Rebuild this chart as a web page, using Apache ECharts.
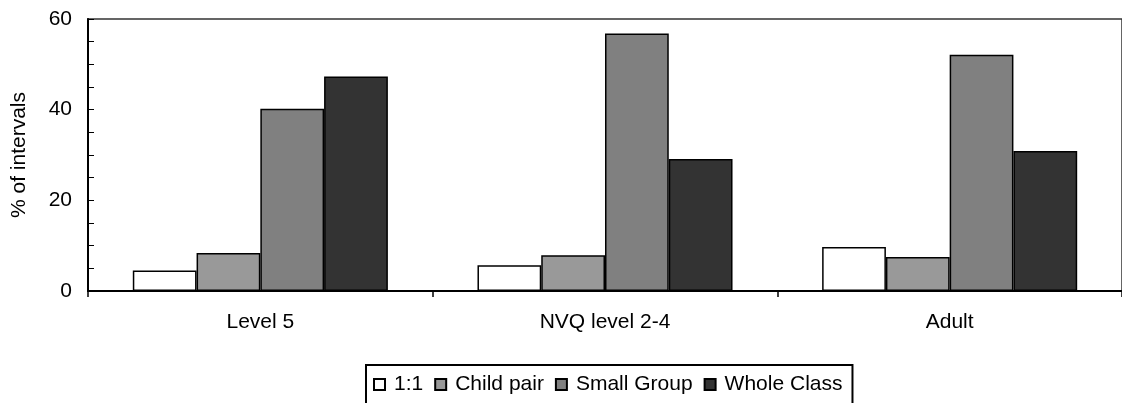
<!DOCTYPE html>
<html><head><meta charset="utf-8">
<script src="https://cdn.jsdelivr.net/npm/echarts@6/dist/echarts.min.js"></script>
<style>html,body{margin:0;padding:0;background:#fff}#c{width:1122px;height:403px}</style>
</head><body><div id="c"></div>
<script>
const categories = ['Level 5', 'NVQ level 2-4', 'Adult'];
const seriesNames = ['1:1', 'Child pair', 'Small Group', 'Whole Class'];
const oneToOne = [4.5, 5.7, 9.7];
const childPair = [8.4, 7.9, 7.5];
const smallGroup = [40.2, 56.8, 52.1];
const wholeClass = [47.3, 29.1, 30.9];
const yTicks = [0, 20, 40, 60];
const colors = ['#ffffff', '#999999', '#808080', '#333333'];
const values = [oneToOne, childPair, smallGroup, wholeClass];
const font = 'Liberation Sans, Arial, sans-serif';

const chart = echarts.init(document.getElementById('c'), null, {renderer: 'canvas'});
chart.setOption({
  animation: false,
  textStyle: {fontFamily: font},
  grid: {left: 88, top: 19, width: 1036, height: 272, show: true, borderColor: '#333', borderWidth: 1.5, backgroundColor: 'transparent'},
  legend: {
    top: 365, left: 366,
    data: seriesNames,
    itemWidth: 11, itemHeight: 11, itemGap: 11,
    icon: 'rect',
    borderColor: '#000', borderWidth: 2,
    padding: [9, 10, 20, 7],
    textStyle: {fontSize: 21, color: '#000', fontFamily: font, padding: [0, 0, 0, 4]}
  },
  xAxis: {
    type: 'category', data: categories,
    axisLine: {lineStyle: {color: '#000', width: 2}},
    axisTick: {show: true, alignWithLabel: false, length: 6, lineStyle: {color: '#000', width: 1.5}},
    axisLabel: {fontSize: 21, color: '#000', margin: 21, fontFamily: font}
  },
  yAxis: {
    type: 'value', min: yTicks[0], max: yTicks[yTicks.length - 1], interval: 20,
    name: '% of intervals', nameLocation: 'middle', nameGap: 58,
    nameTextStyle: {fontSize: 21, color: '#000', fontFamily: font},
    axisLine: {show: true, lineStyle: {color: '#000', width: 2}},
    axisTick: {show: true, inside: true, length: 6, lineStyle: {color: '#000'}},
    minorTick: {show: true, splitNumber: 4, length: 6, lineStyle: {color: '#000'}},
    splitLine: {show: false},
    axisLabel: {fontSize: 21, color: '#000', margin: 16, fontFamily: font}
  },
  series: seriesNames.map((n, i) => ({
    name: n, type: 'bar', data: values[i],
    barGap: '0%', barCategoryGap: '26%',
    itemStyle: {color: colors[i], borderColor: '#000', borderWidth: 1.5}
  }))
});
</script></body></html>
